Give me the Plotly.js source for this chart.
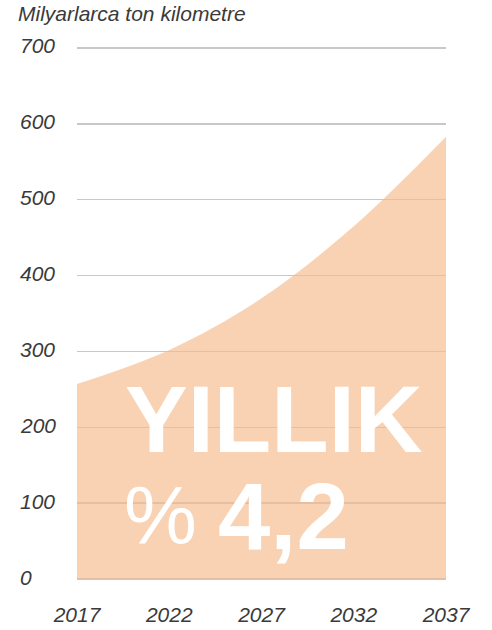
<!DOCTYPE html>
<html>
<head>
<meta charset="utf-8">
<script src="https://cdn.plot.ly/plotly-3.0.1.min.js"></script>
<style>
html,body{margin:0;padding:0;background:#fff;}
#chart{width:492px;height:630px;}
</style>
</head>
<body>
<div id="chart"></div>
<script>
// Data
const years = [2017, 2022, 2027, 2032, 2037];
const values = [257, 302, 370, 465, 583]; // billion ton-km
const yTicks = [0, 100, 200, 300, 400, 500, 600, 700];
const xTicks = [2017, 2022, 2027, 2032, 2037];
const unitLabel = 'Milyarlarca ton kilometre';
const rateLine1 = 'YILLIK';
const rateSymbol = '%';
const rateValue = '4,2';

const FONT = '"Liberation Sans", Arial, sans-serif';
const tickFont = {family: FONT, size: 21, color: '#3a3a3a'};

const trace = {
  x: years,
  y: values,
  type: 'scatter',
  mode: 'lines',
  fill: 'tozeroy',
  fillcolor: 'rgba(244,186,138,0.65)',
  line: {width: 0, shape: 'spline', smoothing: 1, color: 'rgba(244,186,138,0.65)'},
  hoverinfo: 'skip'
};

const L = 77, R = 46, T = 46, B = 49;
const plotW = 492 - L - R;
const plotH = 630 - T - B;

const yLabelAnns = yTicks.map(v => ({
  text: '<i>' + v + '</i>',
  xref: 'paper', yref: 'y',
  x: (18 - L) / plotW, y: v,
  xanchor: 'left', yanchor: 'middle', yshift: 2,
  showarrow: false, font: tickFont
}));

const layout = {
  width: 492,
  height: 630,
  margin: {l: L, r: R, t: T, b: B, pad: 0},
  paper_bgcolor: '#ffffff',
  plot_bgcolor: 'rgba(0,0,0,0)',
  showlegend: false,
  title: {
    text: '<i>' + unitLabel + '</i>',
    x: 18 / 492, xref: 'container', xanchor: 'left',
    y: 1 - 14 / 630, yref: 'container', yanchor: 'middle',
    font: {family: FONT, size: 21, color: '#3a3a3a'}
  },
  xaxis: {
    range: [2017, 2037],
    tickvals: xTicks,
    ticktext: xTicks.map(v => '<i>' + v + '</i>'),
    showgrid: false, zeroline: false, showline: false, ticks: '',
    tickfont: tickFont,
    ticklabelstandoff: 19,
    fixedrange: true
  },
  yaxis: {
    range: [-2.6, 702.6],
    tickvals: yTicks,
    showticklabels: false,
    showgrid: true, gridcolor: '#c8c8c8', gridwidth: 1.5,
    zeroline: false, showline: false, ticks: '',
    fixedrange: true
  },
  annotations: yLabelAnns.concat([
    {text: '<b>' + rateLine1 + '</b>', xref: 'paper', yref: 'paper',
     x: (274 - L) / plotW, y: (630 - B - 420) / plotH, xanchor: 'center', yanchor: 'middle',
     showarrow: false, font: {family: FONT, size: 94, color: '#ffffff'}},
    {text: rateSymbol, xref: 'paper', yref: 'paper',
     x: (160 - L) / plotW, y: (630 - B - 515) / plotH, xanchor: 'center', yanchor: 'middle',
     showarrow: false, font: {family: FONT, size: 82, color: '#ffffff'}},
    {text: '<b>' + rateValue + '</b>', xref: 'paper', yref: 'paper',
     x: (283 - L) / plotW, y: (630 - B - 516) / plotH, xanchor: 'center', yanchor: 'middle',
     showarrow: false, font: {family: FONT, size: 94, color: '#ffffff'}}
  ])
};

Plotly.newPlot('chart', [trace], layout, {displayModeBar: false, staticPlot: true});
</script>
</body>
</html>
